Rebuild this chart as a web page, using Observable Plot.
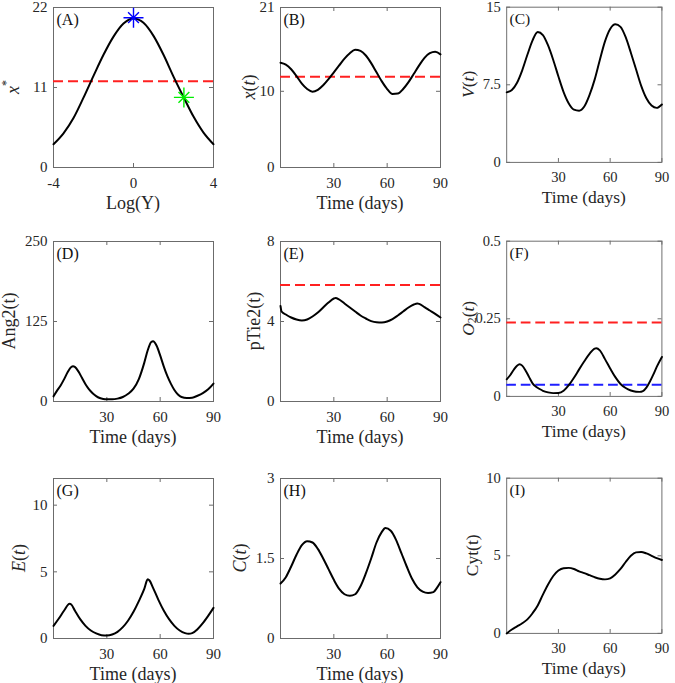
<!DOCTYPE html>
<html><head><meta charset="utf-8">
<script src="https://cdn.jsdelivr.net/npm/d3@7"></script>
<script src="https://cdn.jsdelivr.net/npm/@observablehq/plot@0.6"></script>
<style>
body{margin:0;background:#fff;}
#fig{position:relative;width:675px;height:683px;overflow:hidden;background:#fff;}
.panel{position:absolute;}
.panel svg{overflow:visible;}
</style></head><body><div id="fig"></div>
<script>
// ---------- data ----------
// (A) steady state x* vs Log(Y)
const logY = [-4,-3.5,-3,-2.5,-2,-1.5,-1,-0.5,0,0.5,1,1.5,2,2.5,3,3.5,4];
const xStar = [3.2,4.7,6.8,9.6,12.6,15.5,18.0,19.8,20.5,19.9,18.1,15.5,12.5,9.7,7.0,4.8,3.2];
const redA = 11.86;
const starBlue = {logY: 0, x: 20.6};
const starGreen = {logY: 2.52, x: 9.64};

// (B) x(t)
const tB = [0,3,6,9,12,15,18,21,24,27,30,33,36,39,42,45,48,51,54,57,60,63,66,69,72,75,78,81,84,87,90];
const xB = [13.75,13.5,12.9,12.0,11.0,10.3,9.95,10.2,10.8,11.6,12.5,13.4,14.3,15.0,15.45,15.3,14.7,13.7,12.5,11.3,10.3,9.65,9.7,10.3,11.2,12.3,13.4,14.4,15.0,15.2,14.85];
const redB = 11.9;

// (C) V(t)
const tC = [0,3,6,9,12,15,18,21,24,27,30,33,36,39,42,45,48,51,54,57,60,63,66,69,72,75,78,81,84,87,90];
const vC = [6.77,7.0,7.7,8.9,10.4,11.8,12.6,12.3,11.3,9.9,8.3,6.8,5.7,5.1,5.0,5.4,6.5,8.0,9.9,11.7,12.9,13.35,13.1,12.1,10.6,9.0,7.4,6.2,5.5,5.27,5.6];

// (D) Ang2(t)
const tD = [0,2,4,6,8,10,11,12,14,16,18,20,22,24,26,28,30,33,36,39,42,45,48,51,53,55,56,58,60,62,64,66,68,70,72,75,78,81,84,87,90];
const angD = [8,17,25,35,46,54,55,54,47,37,27,19,13,8.5,5.5,4,3.5,3.5,4.5,7,12,20,35,60,80,93,94,87,72,55,40,28,18,11,7,5.5,6,9,13,19,28];

// (E) pTie2(t)
const tE = [0,0.6,3,6,9,12,15,18,21,24,27,30,31,33,36,39,42,45,48,51,54,57,60,63,66,69,72,75,77,78,81,84,87,90];
const pE = [4.78,4.5,4.35,4.2,4.1,4.05,4.1,4.25,4.45,4.7,4.95,5.15,5.18,5.1,4.9,4.7,4.5,4.3,4.15,4.02,3.96,3.95,4.0,4.12,4.3,4.5,4.7,4.85,4.9,4.88,4.72,4.55,4.38,4.2];
const redE = 5.83;

// (F) O2(t)
const tF = [0,2,4,6,7.5,9,11,13,15,17,19,21,24,27,30,33,36,39,42,45,48,51,52,54,57,60,63,66,69,72,75,77,79,81,83,85,87,90];
const oF = [0.055,0.068,0.085,0.099,0.1035,0.099,0.083,0.062,0.042,0.031,0.024,0.018,0.013,0.0105,0.011,0.018,0.036,0.06,0.087,0.113,0.137,0.154,0.155,0.148,0.12,0.09,0.062,0.04,0.027,0.019,0.015,0.0145,0.017,0.028,0.047,0.07,0.095,0.127];
const redF = 0.238;
const blueF = 0.0373;

// (G) E(t)
const tG = [0,3,6,9,10,12,15,18,21,24,27,30,33,36,39,42,45,48,51,53,54,56,59,62,65,68,71,74,76,78,81,84,87,90];
const eG = [0.95,1.5,2.1,2.6,2.55,2.1,1.45,0.95,0.6,0.38,0.25,0.22,0.3,0.5,0.85,1.35,2.0,2.8,3.7,4.44,4.35,3.8,2.9,2.1,1.45,0.95,0.6,0.4,0.35,0.4,0.7,1.15,1.7,2.3];

// (H) C(t)
const tH = [0,3,6,9,12,15,18,21,24,27,30,33,36,39,42,45,48,51,54,57,59,62,65,68,71,74,77,80,83,86,88,90];
const cH = [1.03,1.15,1.35,1.57,1.75,1.825,1.8,1.68,1.5,1.3,1.1,0.93,0.83,0.8,0.83,0.98,1.22,1.5,1.8,2.0,2.07,2.02,1.85,1.6,1.35,1.12,0.96,0.88,0.855,0.87,0.95,1.056];

// (I) Cyt(t)
const tI = [0,3,6,9,12,15,18,21,24,27,30,33,36,39,42,45,48,51,54,57,60,63,66,69,72,75,78,81,84,87,90];
const cytI = [0,0.25,0.45,0.65,0.9,1.3,1.8,2.5,3.15,3.7,4.05,4.2,4.22,4.15,4.0,3.88,3.75,3.62,3.52,3.48,3.55,3.8,4.15,4.6,5.0,5.22,5.25,5.15,5.0,4.85,4.73];

// tick labels
const ticksLogY = [-4,0,4];
const ticksTime = [30,60,90];
const yTicksA = [0,11,22], yTicksB = [0,10,21], yTicksC = [0,7.5,15];
const yTicksD = [0,125,250], yTicksE = [0,4,8], yTicksF = [0,0.25,0.5];
const yTicksG = [0,5,10], yTicksH = [0,1.5,3], yTicksI = [0,5,10];

// ---------- layout ----------
const FONT = "'Liberation Serif', 'DejaVu Serif', 'Noto Serif', serif";
const TXT = "#262626", AX = "#6b6b6b";
const colLeft = [53, 280, 508], rowTop = [7, 241, 478];
const FW = 160, FH = 160;
const ML = 60, MR = 14, MT = 10, MB = 50;

function zip(xs, ys) { return xs.map((x, i) => ({x, y: ys[i]})); }
const fmt = d => String(d);

function panel(o) {
  const marks = [
    Plot.frame({stroke: AX, strokeWidth: 1}),
    Plot.tickX(o.xTicks, {x: d => d, insetTop: FH - 4, stroke: AX}),
    Plot.tickX(o.xTicks, {x: d => d, insetBottom: FH - 4, stroke: AX}),
    Plot.tickY(o.yTicks, {y: d => d, insetRight: FW - 4, stroke: AX}),
    Plot.tickY(o.yTicks, {y: d => d, insetLeft: FW - 4, stroke: AX}),
    Plot.axisX(o.xTicks, {tickSize: 0, tickPadding: 10, label: null, fontSize: 15, fill: TXT, tickFormat: fmt}),
    Plot.axisY(o.yTicks, {tickSize: 0, tickPadding: 6, label: null, fontSize: 15, fill: TXT, tickFormat: fmt}),
    ...(o.hlines || []).map(h => Plot.ruleY([h.value], {stroke: h.color, strokeWidth: 2, strokeDasharray: "10,5"})),
    Plot.line(zip(o.xs, o.ys), {x: "x", y: "y", stroke: "black", strokeWidth: 2, curve: "monotone-x"}),
    ...(o.stars || []).flatMap(s => [
      Plot.dot([s.p], {x: s.xk, y: s.yk, symbol: "plus", r: 6.5, stroke: s.color, strokeWidth: 1.4}),
      Plot.dot([s.p], {x: s.xk, y: s.yk, symbol: "times", r: 5, stroke: s.color, strokeWidth: 1.4})
    ]),
    Plot.text([`(${o.letter})`], {frameAnchor: "top-left", dx: 3, dy: 12, textAnchor: "start", lineAnchor: "middle", fontSize: 16, fill: "#111"})
  ];
  const svg = Plot.plot({
    width: ML + FW + MR, height: MT + FH + MB,
    marginLeft: ML, marginRight: MR, marginTop: MT, marginBottom: MB,
    x: {domain: o.xDomain}, y: {domain: o.yDomain},
    style: {fontFamily: FONT, background: "transparent", overflow: "visible"},
    marks
  });
  const s = d3.select(svg);
  s.selectAll("text").style("font-family", FONT);
  // x label
  s.append("text")
    .attr("x", ML + FW / 2).attr("y", MT + FH + 36)
    .attr("text-anchor", "middle").attr("dominant-baseline", "central")
    .style("font-family", FONT).style("font-size", "18px").attr("fill", TXT)
    .text(o.xLabel);
  // y label with mixed styles
  const t = s.append("text")
    .attr("transform", `translate(${ML - o.yOff},${MT + FH / 2}) rotate(-90)`)
    .attr("text-anchor", "middle").attr("dominant-baseline", "central")
    .style("font-family", FONT).style("font-size", "18px").attr("fill", TXT);
  for (const [str, kind] of o.yLabel) {
    const ts = t.append("tspan").text(str);
    if (kind === "i") ts.style("font-style", "italic");
    if (kind === "sup") ts.style("font-size", "12px").attr("dy", "-7");
    if (kind === "sub") ts.style("font-size", "12px").attr("dy", "4");
    if (kind === "subend") ts.attr("dy", "-4");
  }
  const div = document.createElement("div");
  div.className = "panel";
  div.style.left = (colLeft[o.col] - ML) + "px";
  div.style.top = (rowTop[o.row] - MT) + "px";
  div.appendChild(svg);
  document.getElementById("fig").appendChild(div);
}

const timeLabel = "Time (days)";
panel({col: 0, row: 0, letter: "A", xDomain: [-4, 4], xTicks: ticksLogY, yDomain: [0, 22], yTicks: yTicksA,
  xs: logY, ys: xStar, hlines: [{value: redA, color: "#ff2020"}],
  stars: [{p: starBlue, xk: "logY", yk: "x", color: "#0000ff"}, {p: starGreen, xk: "logY", yk: "x", color: "#00ee00"}],
  xLabel: "Log(Y)", yLabel: [["x", "i"], ["*", "sup"]], yOff: 40});
panel({col: 1, row: 0, letter: "B", xDomain: [0, 90], xTicks: ticksTime, yDomain: [0, 21], yTicks: yTicksB,
  xs: tB, ys: xB, hlines: [{value: redB, color: "#ff2020"}],
  xLabel: timeLabel, yLabel: [["x", "i"], ["(", ""], ["t", "i"], [")", ""]], yOff: 31});
panel({col: 2, row: 0, letter: "C", xDomain: [0, 90], xTicks: ticksTime, yDomain: [0, 15], yTicks: yTicksC,
  xs: tC, ys: vC,
  xLabel: timeLabel, yLabel: [["V", "i"], ["(", ""], ["t", "i"], [")", ""]], yOff: 39});
panel({col: 0, row: 1, letter: "D", xDomain: [0, 90], xTicks: ticksTime, yDomain: [0, 250], yTicks: yTicksD,
  xs: tD, ys: angD,
  xLabel: timeLabel, yLabel: [["Ang2(t)", ""]], yOff: 44});
panel({col: 1, row: 1, letter: "E", xDomain: [0, 90], xTicks: ticksTime, yDomain: [0, 8], yTicks: yTicksE,
  xs: tE, ys: pE, hlines: [{value: redE, color: "#ff2020"}],
  xLabel: timeLabel, yLabel: [["pTie2(t)", ""]], yOff: 26});
panel({col: 2, row: 1, letter: "F", xDomain: [0, 90], xTicks: ticksTime, yDomain: [0, 0.5], yTicks: yTicksF,
  xs: tF, ys: oF, hlines: [{value: redF, color: "#ff2020"}, {value: blueF, color: "#1f1fff"}],
  xLabel: timeLabel, yLabel: [["O", "i"], ["2", "sub"], ["(", "subend"], ["t", "i"], [")", ""]], yOff: 39});
panel({col: 0, row: 2, letter: "G", xDomain: [0, 90], xTicks: ticksTime, yDomain: [0, 12], yTicks: yTicksG,
  xs: tG, ys: eG,
  xLabel: timeLabel, yLabel: [["E", "i"], ["(", ""], ["t", "i"], [")", ""]], yOff: 34});
panel({col: 1, row: 2, letter: "H", xDomain: [0, 90], xTicks: ticksTime, yDomain: [0, 3], yTicks: yTicksH,
  xs: tH, ys: cH,
  xLabel: timeLabel, yLabel: [["C", "i"], ["(", ""], ["t", "i"], [")", ""]], yOff: 40});
panel({col: 2, row: 2, letter: "I", xDomain: [0, 90], xTicks: ticksTime, yDomain: [0, 10], yTicks: yTicksI,
  xs: tI, ys: cytI,
  xLabel: timeLabel, yLabel: [["Cyt(t)", ""]], yOff: 35});
</script></body></html>
